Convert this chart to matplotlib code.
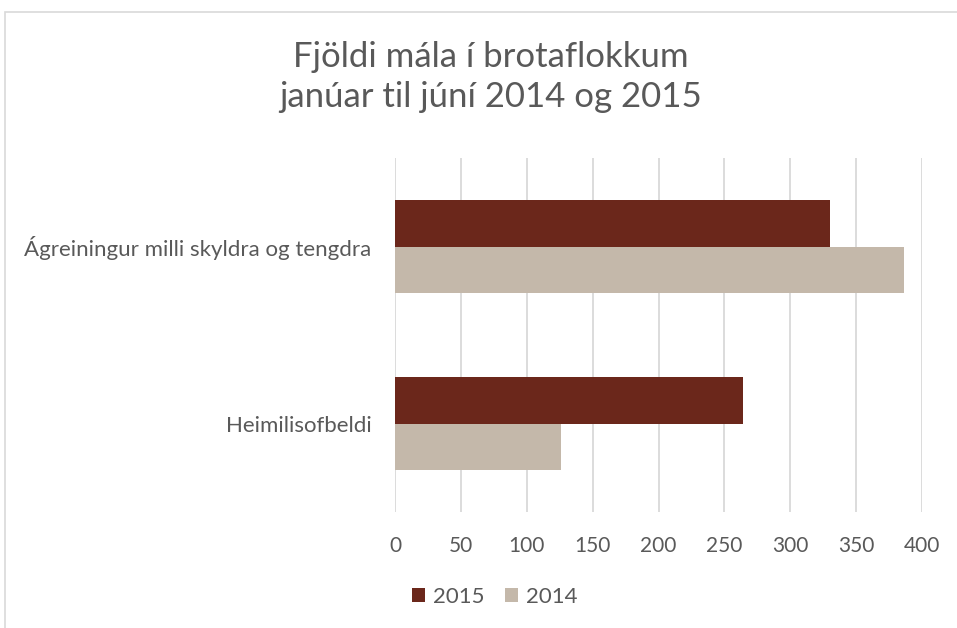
import matplotlib.pyplot as plt
import numpy as np
from matplotlib.patches import Rectangle

categories = ["Ágreiningur milli skyldra og tengdra", "Heimilisofbeldi"]
values_2015 = [330, 264]
values_2014 = [386, 126]
x_ticks = [0, 50, 100, 150, 200, 250, 300, 350, 400]

plt.rcParams['font.family'] = ['Lato', 'DejaVu Sans']
txt = '#595959'

fig = plt.figure(figsize=(9.57, 6.28), dpi=100)
ax = fig.add_axes([395/957, 1-512/628, (922-395)/957, (512-158)/628])

y = np.arange(len(categories))
h = 0.26
ax.barh(y - h/2, values_2015, height=h, color='#6B271B', label='2015', zorder=3)
ax.barh(y + h/2, values_2014, height=h, color='#C4B8AA', label='2014', zorder=3)

ax.set_xlim(0, 400)
ax.set_ylim(1.5, -0.5)
ax.set_xticks(x_ticks)
ax.set_yticks(y)
ax.set_yticklabels(categories)
ax.grid(axis='x', color='#D9D9D9', linewidth=1.3, zorder=0)
for s in ax.spines.values():
    s.set_visible(False)
ax.tick_params(axis='x', length=0, labelsize=15, labelcolor=txt, pad=17)
ax.tick_params(axis='y', length=0, labelsize=16, labelcolor=txt, pad=17)

fig.text(0.513, 1-77/628, "Fjöldi mála í brotaflokkum\njanúar til júní 2014 og 2015",
         ha='center', va='center', fontsize=25, color=txt, linespacing=1.3)

fig.legend(loc='center', bbox_to_anchor=(0.517, 0.049), ncol=2, frameon=False,
           fontsize=16, labelcolor=txt, handlelength=0.6, handleheight=0.6,
           handletextpad=0.35, columnspacing=0.9)

fig.patches.append(Rectangle((5/957, -0.01), 1.0, 1-12/628+0.01, transform=fig.transFigure,
                             fill=False, edgecolor='#D9D9D9', linewidth=1.2))

fig.savefig('out.png', dpi=100)
